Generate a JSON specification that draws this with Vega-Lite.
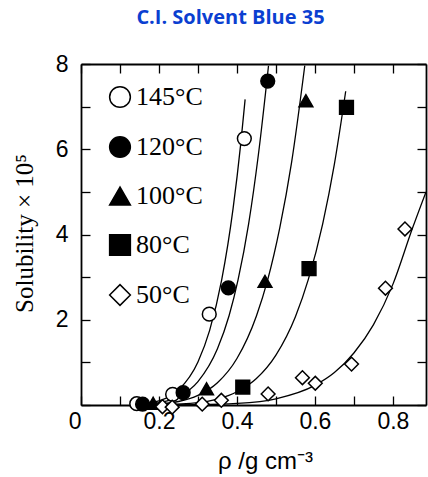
{
  "$schema": "https://vega.github.io/schema/vega-lite/v6.json",
  "width": 345,
  "height": 341,
  "autosize": {"type": "none"},
  "padding": {"left": 81, "top": 64, "right": 2, "bottom": 72},
  "background": "white",
  "config": {"view": {"stroke": null}},
  "title": {
    "text": "C.I. Solvent Blue 35",
    "font": "Open Sans",
    "fontSize": 20,
    "fontWeight": "bold",
    "color": "#0b3fd1",
    "anchor": "middle",
    "offset": 25,
    "dx": -23
  },
  "datasets": {
    "pts": [
      {"rho": 0.143, "S": 0.03, "T": "145°C"},
      {"rho": 0.235, "S": 0.25, "T": "145°C"},
      {"rho": 0.329, "S": 2.13, "T": "145°C"},
      {"rho": 0.419, "S": 6.25, "T": "145°C"},
      {"rho": 0.158, "S": 0.02, "T": "120°C"},
      {"rho": 0.262, "S": 0.29, "T": "120°C"},
      {"rho": 0.378, "S": 2.75, "T": "120°C"},
      {"rho": 0.479, "S": 7.6, "T": "120°C"},
      {"rho": 0.185, "S": 0.04, "T": "100°C"},
      {"rho": 0.322, "S": 0.38, "T": "100°C"},
      {"rho": 0.472, "S": 2.9, "T": "100°C"},
      {"rho": 0.577, "S": 7.14, "T": "100°C"},
      {"rho": 0.415, "S": 0.42, "T": "80°C"},
      {"rho": 0.585, "S": 3.2, "T": "80°C"},
      {"rho": 0.681, "S": 6.98, "T": "80°C"},
      {"rho": 0.209, "S": -0.04, "T": "50°C"},
      {"rho": 0.234, "S": -0.05, "T": "50°C"},
      {"rho": 0.311, "S": 0.02, "T": "50°C"},
      {"rho": 0.36, "S": 0.11, "T": "50°C"},
      {"rho": 0.48, "S": 0.26, "T": "50°C"},
      {"rho": 0.568, "S": 0.64, "T": "50°C"},
      {"rho": 0.601, "S": 0.51, "T": "50°C"},
      {"rho": 0.694, "S": 0.96, "T": "50°C"},
      {"rho": 0.781, "S": 2.74, "T": "50°C"},
      {"rho": 0.831, "S": 4.13, "T": "50°C"}
    ],
    "curves": [
      {"rho": 0.14, "S": 0.012, "T": "145°C"},
      {"rho": 0.2, "S": 0.095, "T": "145°C"},
      {"rho": 0.25, "S": 0.35, "T": "145°C"},
      {"rho": 0.3, "S": 1.01, "T": "145°C"},
      {"rho": 0.33, "S": 1.75, "T": "145°C"},
      {"rho": 0.361, "S": 2.94, "T": "145°C"},
      {"rho": 0.39, "S": 4.6, "T": "145°C"},
      {"rho": 0.41, "S": 6.15, "T": "145°C"},
      {"rho": 0.421, "S": 7.17, "T": "145°C"},
      {"rho": 0.155, "S": 0.013, "T": "120°C"},
      {"rho": 0.2, "S": 0.054, "T": "120°C"},
      {"rho": 0.25, "S": 0.19, "T": "120°C"},
      {"rho": 0.3, "S": 0.55, "T": "120°C"},
      {"rho": 0.35, "S": 1.32, "T": "120°C"},
      {"rho": 0.38, "S": 2.1, "T": "120°C"},
      {"rho": 0.403, "S": 2.94, "T": "120°C"},
      {"rho": 0.43, "S": 4.25, "T": "120°C"},
      {"rho": 0.455, "S": 5.87, "T": "120°C"},
      {"rho": 0.481, "S": 7.96, "T": "120°C"},
      {"rho": 0.18, "S": 0.014, "T": "100°C"},
      {"rho": 0.25, "S": 0.082, "T": "100°C"},
      {"rho": 0.3, "S": 0.224, "T": "100°C"},
      {"rho": 0.35, "S": 0.52, "T": "100°C"},
      {"rho": 0.4, "S": 1.09, "T": "100°C"},
      {"rho": 0.45, "S": 2.09, "T": "100°C"},
      {"rho": 0.479, "S": 2.94, "T": "100°C"},
      {"rho": 0.51, "S": 4.16, "T": "100°C"},
      {"rho": 0.54, "S": 5.68, "T": "100°C"},
      {"rho": 0.574, "S": 7.96, "T": "100°C"},
      {"rho": 0.2, "S": 0.005, "T": "80°C"},
      {"rho": 0.3, "S": 0.055, "T": "80°C"},
      {"rho": 0.35, "S": 0.138, "T": "80°C"},
      {"rho": 0.4, "S": 0.31, "T": "80°C"},
      {"rho": 0.45, "S": 0.62, "T": "80°C"},
      {"rho": 0.5, "S": 1.17, "T": "80°C"},
      {"rho": 0.55, "S": 2.07, "T": "80°C"},
      {"rho": 0.583, "S": 2.94, "T": "80°C"},
      {"rho": 0.62, "S": 4.25, "T": "80°C"},
      {"rho": 0.65, "S": 5.65, "T": "80°C"},
      {"rho": 0.679, "S": 7.36, "T": "80°C"},
      {"rho": 0.2, "S": 0.0, "T": "50°C"},
      {"rho": 0.3, "S": 0.006, "T": "50°C"},
      {"rho": 0.4, "S": 0.036, "T": "50°C"},
      {"rho": 0.5, "S": 0.146, "T": "50°C"},
      {"rho": 0.6, "S": 0.46, "T": "50°C"},
      {"rho": 0.65, "S": 0.76, "T": "50°C"},
      {"rho": 0.7, "S": 1.22, "T": "50°C"},
      {"rho": 0.75, "S": 1.88, "T": "50°C"},
      {"rho": 0.8, "S": 2.83, "T": "50°C"},
      {"rho": 0.85, "S": 4.14, "T": "50°C"},
      {"rho": 0.885, "S": 5.0, "T": "50°C"}
    ]
  },
  "layer": [
    {
      "data": {"name": "curves"},
      "mark": {"type": "line", "color": "black", "strokeWidth": 1.3, "interpolate": "monotone", "clip": true},
      "encoding": {
        "x": {
          "field": "rho", "type": "quantitative",
          "scale": {"domain": [0, 0.885], "nice": false, "zero": false},
          "axis": {
            "orient": "bottom",
            "values": [0, 0.1, 0.2, 0.3, 0.4, 0.5, 0.6, 0.7, 0.8],
            "format": "~g",
            "labelExpr": "round(datum.value * 10) % 2 == 0 ? datum.label : ''",
            "labelAlign": {"condition": {"test": "datum.value == 0", "value": "right"}, "value": "center"},
            "labelFlush": false,
            "labelFont": "Liberation Sans",
            "labelFontSize": 23,
            "labelColor": "black",
            "labelPadding": 14,
            "tickSize": -9,
            "tickColor": "black",
            "tickWidth": 1.3,
            "domainColor": "black",
            "domainWidth": 1.8,
            "grid": false,
            "title": "ρ /g cm⁻³",
            "titleFont": "Liberation Sans",
            "titleFontSize": 24,
            "titleFontWeight": "normal",
            "titleColor": "black",
            "titleX": 184,
            "titleY": 63,
            "titleBaseline": "alphabetic"
          }
        },
        "y": {
          "field": "S", "type": "quantitative",
          "scale": {"domain": [0, 8], "nice": false, "zero": false},
          "axis": {
            "orient": "left",
            "values": [0, 1, 2, 3, 4, 5, 6, 7, 8],
            "labelExpr": "datum.value > 0 && datum.value % 2 == 0 ? datum.label : ''",
            "labelFont": "Liberation Sans",
            "labelFontSize": 23,
            "labelColor": "black",
            "labelPadding": 22,
            "tickSize": -9,
            "tickColor": "black",
            "tickWidth": 1.3,
            "domainColor": "black",
            "domainWidth": 1.8,
            "grid": false,
            "title": "Solubility × 10⁵",
            "titleFont": "Liberation Serif",
            "titleFontSize": 25,
            "titleFontWeight": "normal",
            "titleColor": "black",
            "titleAngle": -90,
            "titleX": -57,
            "titleY": 169,
            "titleBaseline": "middle",
            "titleAlign": "center"
          }
        },
        "detail": {"field": "T"}
      }
    },
    {
      "data": {"name": "pts"},
      "mark": {"type": "point", "filled": true, "size": 190, "stroke": "black", "strokeWidth": 1.5, "opacity": 1},
      "encoding": {
        "x": {
          "field": "rho", "type": "quantitative",
          "axis": {
            "orient": "top",
            "values": [0, 0.1, 0.2, 0.3, 0.4, 0.5, 0.6, 0.7, 0.8],
            "labels": false,
            "tickSize": -9,
            "tickColor": "black",
            "tickWidth": 1.3,
            "domainColor": "black",
            "domainWidth": 1.8,
            "grid": false,
            "title": null
          }
        },
        "y": {
          "field": "S", "type": "quantitative",
          "axis": {
            "orient": "right",
            "values": [0, 1, 2, 3, 4, 5, 6, 7, 8],
            "labels": false,
            "tickSize": -9,
            "tickColor": "black",
            "tickWidth": 1.3,
            "domainColor": "black",
            "domainWidth": 1.8,
            "grid": false,
            "title": null
          }
        },
        "shape": {
          "field": "T", "type": "nominal",
          "scale": {
            "domain": ["145°C", "120°C", "100°C", "80°C", "50°C"],
            "range": ["circle", "circle", "triangle-up", "square", "diamond"]
          },
          "legend": {
            "title": null,
            "orient": "none",
            "legendX": 26,
            "legendY": 20,
            "padding": 0,
            "symbolSize": 430,
            "labelFont": "Liberation Serif",
            "labelFontSize": 26,
            "labelColor": "black",
            "labelOffset": 3,
            "rowPadding": 22,
            "encode": {"symbols": {"update": {"stroke": {"value": "black"}, "strokeWidth": {"value": 1.5}}}}
          }
        },
        "fill": {
          "field": "T", "type": "nominal",
          "scale": {
            "domain": ["145°C", "120°C", "100°C", "80°C", "50°C"],
            "range": ["white", "black", "black", "black", "white"]
          },
          "legend": {
            "title": null,
            "orient": "none",
            "legendX": 26,
            "legendY": 20,
            "padding": 0,
            "symbolSize": 430,
            "labelFont": "Liberation Serif",
            "labelFontSize": 26,
            "labelColor": "black",
            "labelOffset": 3,
            "rowPadding": 22,
            "encode": {"symbols": {"update": {"stroke": {"value": "black"}, "strokeWidth": {"value": 1.5}}}}
          }
        }
      }
    }
  ],
  "resolve": {"axis": {"x": "independent", "y": "independent"}}
}
